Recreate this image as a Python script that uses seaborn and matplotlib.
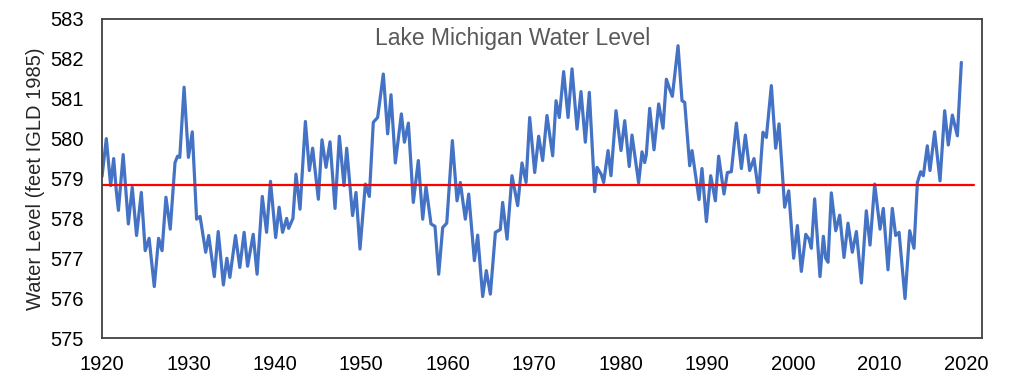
import numpy as np
import pandas as pd
import seaborn as sns
import matplotlib
matplotlib.use("Agg")
import matplotlib.pyplot as plt

# monthly turning points (decimal year, feet IGLD 1985)
t_1920 = [1920.0, 1920.5, 1921.0, 1921.35, 1921.65, 1921.9, 1922.45, 1923.05, 1923.5, 1924.0,
          1924.55, 1925.0, 1925.45, 1926.05, 1926.55, 1926.95, 1927.4, 1927.9, 1928.45, 1928.75,
          1929.0, 1929.5, 1930.0, 1930.45, 1930.95, 1931.35, 1932.0, 1932.35, 1933.0, 1933.45,
          1934.05, 1934.45, 1934.8, 1935.45, 1935.95, 1936.45, 1936.85, 1937.5, 1937.95, 1938.55,
          1939.05, 1939.5]
v_1920 = [579.05, 580.0, 578.82, 579.5, 578.7, 578.2, 579.6, 577.86, 578.78, 577.57,
          578.65, 577.19, 577.5, 576.29, 577.5, 577.19, 578.53, 577.73, 579.4, 579.56,
          579.53, 581.29, 579.53, 580.17, 577.98, 578.05, 577.15, 577.57, 576.54, 577.67,
          576.33, 577.0, 576.52, 577.57, 576.77, 577.65, 576.8, 577.6, 576.6, 578.55,
          577.65, 578.93]

t_1940 = [1940.1, 1940.5, 1940.9, 1941.37, 1941.6, 1942.1, 1942.45, 1942.92, 1943.54, 1944.0,
          1944.38, 1945.04, 1945.46, 1945.93, 1946.39, 1946.97, 1947.47, 1948.01, 1948.32, 1949.0,
          1949.4, 1949.86, 1950.48, 1950.94, 1951.4, 1951.9, 1952.56, 1953.06, 1953.45, 1953.95,
          1954.65, 1955.0, 1955.46, 1956.03, 1956.61, 1957.12, 1957.5, 1958.08, 1958.54, 1958.97,
          1959.43, 1959.9, 1960.55]
v_1940 = [577.52, 578.28, 577.65, 578.0, 577.75, 578.0, 579.11, 578.23, 580.43, 579.2,
          579.76, 578.48, 579.97, 579.28, 579.92, 578.25, 580.06, 578.82, 579.76, 578.07,
          578.65, 577.23, 578.86, 578.55, 580.41, 580.53, 581.62, 580.12, 581.1, 579.39,
          580.62, 579.91, 580.39, 578.4, 579.45, 577.98, 578.8, 577.86, 577.8, 576.6,
          577.77, 577.88, 579.95]

t_1960 = [1961.09, 1961.47, 1962.05, 1962.44, 1963.1, 1963.48, 1964.06, 1964.48, 1964.95, 1965.53,
          1966.1, 1966.37, 1966.88, 1967.45, 1968.11, 1968.61, 1969.08, 1969.5, 1970.08, 1970.54,
          1971.0, 1971.5, 1972.16, 1972.55, 1972.93, 1973.43, 1973.94, 1974.4, 1974.98, 1975.44,
          1975.94, 1976.4, 1977.02, 1977.29, 1977.79, 1978.06, 1978.57, 1978.91, 1979.49, 1980.07,
          1980.5]
v_1960 = [578.44, 578.9, 577.98, 578.61, 576.94, 577.58, 576.04, 576.69, 576.1, 577.65,
          577.72, 578.4, 577.48, 579.07, 578.32, 579.39, 578.9, 580.53, 579.15, 580.06,
          579.45, 580.58, 579.57, 580.95, 580.53, 581.68, 580.53, 581.75, 580.24, 581.18,
          579.91, 581.16, 578.67, 579.28, 579.1, 578.9, 579.7, 579.07, 580.7, 579.7,
          580.45]

t_1980 = [1981.02, 1981.34, 1982.11, 1982.5, 1982.81, 1983.0, 1983.39, 1983.89, 1984.43, 1984.93,
          1985.32, 1985.7, 1986.01, 1986.67, 1987.13, 1987.44, 1988.02, 1988.29, 1989.1, 1989.44,
          1989.95, 1990.45, 1990.99, 1991.37, 1991.99, 1992.38, 1992.84, 1993.42, 1994.0, 1994.46,
          1994.96, 1995.46, 1996.0, 1996.5, 1996.89, 1997.47, 1997.97, 1998.36, 1999.01, 1999.48,
          2000.05, 2000.48, 2000.94, 2001.45]
v_1980 = [579.3, 580.09, 578.89, 579.67, 579.4, 579.6, 580.76, 579.72, 580.87, 580.26,
          581.49, 581.24, 581.06, 582.33, 580.95, 580.91, 579.32, 579.7, 578.47, 579.25,
          577.92, 579.07, 578.44, 579.56, 578.61, 579.15, 579.17, 580.39, 579.25, 580.09,
          579.2, 579.5, 578.65, 580.16, 580.03, 581.33, 579.76, 580.37, 578.28, 578.69,
          577.0, 577.82, 576.67, 577.6]

t_2000 = [2001.83, 2002.1, 2002.48, 2003.1, 2003.49, 2003.76, 2004.03, 2004.41, 2004.92, 2005.38,
          2005.88, 2006.34, 2006.84, 2007.31, 2007.89, 2008.46, 2008.89, 2009.43, 2010.05, 2010.43,
          2010.97, 2011.47, 2011.86, 2012.25, 2012.94, 2013.48, 2013.98, 2014.37, 2014.75, 2015.06,
          2015.52, 2015.83, 2016.37, 2016.99, 2017.53, 2017.95, 2018.42, 2019.0, 2019.46]
v_2000 = [577.48, 577.25, 578.49, 576.54, 577.55, 577.0, 576.9, 578.64, 577.69, 578.08,
          577.02, 577.88, 577.15, 577.67, 576.38, 578.19, 577.33, 578.86, 577.73, 578.25,
          576.71, 578.25, 577.57, 577.65, 575.99, 577.69, 577.25, 578.9, 579.17, 579.07,
          579.82, 579.2, 580.17, 578.94, 580.7, 579.84, 580.59, 580.07, 581.91]

mean_level = 578.84
mean_span = [1920.0, 2020.9]

df = pd.DataFrame({
    'year': t_1920 + t_1940 + t_1960 + t_1980 + t_2000,
    'level': v_1920 + v_1940 + v_1960 + v_1980 + v_2000,
})
df_mean = pd.DataFrame({'year': mean_span, 'level': [mean_level] * 2})

sns.set_style('white')
plt.rcParams['font.family'] = ['Liberation Sans', 'DejaVu Sans']

fig = plt.figure(figsize=(10.24, 3.85), dpi=100)
ax = fig.add_axes([102 / 1024, 1 - 338 / 385, 880 / 1024, 319 / 385])

sns.lineplot(x='year', y='level', data=df, ax=ax, color='#4472C4', linewidth=2.3,
             sort=False, estimator=None, solid_joinstyle='round')
sns.lineplot(x='year', y='level', data=df_mean, ax=ax, color='#FF0000', linewidth=1.6)

ax.set_xlim(1920, 2021.85)
ax.set_ylim(575, 583)
ax.set_xticks(range(1920, 2021, 10))
ax.set_yticks(range(575, 584))
ax.tick_params(axis='both', length=0, labelsize=14.5, colors='#000000')
ax.tick_params(axis='y', pad=13)
ax.tick_params(axis='x', pad=12)
ax.set_xlabel('')
ax.set_ylabel('Water Level (feet IGLD 1985)', fontsize=14.5, labelpad=4)
for s in ax.spines.values():
    s.set_color('#404040')
    s.set_linewidth(1.3)

fig.text(0.501, 1 - 39 / 385, 'Lake Michigan Water Level', ha='center', va='center',
         fontsize=16.5, color='#595959')

fig.savefig('out.png', dpi=100)
